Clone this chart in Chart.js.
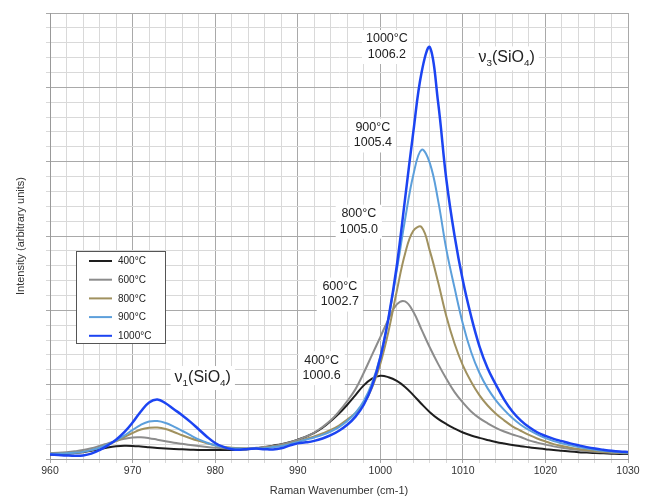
<!DOCTYPE html>
<html>
<head>
<meta charset="utf-8">
<script src="https://cdn.jsdelivr.net/npm/chart.js@4.4.1/dist/chart.umd.min.js"></script>
<style>
  html, body { margin: 0; padding: 0; background: #fff; }
</style>
</head>
<body>
<canvas id="raman" width="645" height="498"></canvas>
<script>
// wavenumber grid (cm-1), one point per cm-1 from 960 to 1030
const wavenumber = [];
for (let w = 960; w <= 1030; w++) wavenumber.push(w);

// intensities (arbitrary units)
const int400 = [0.3, 0.32, 0.35, 0.4, 0.46, 0.55, 0.66, 0.77, 0.85, 0.89,
  0.88, 0.84, 0.79, 0.74, 0.7, 0.67, 0.65, 0.63, 0.61, 0.6,
  0.6, 0.6, 0.61, 0.63, 0.66, 0.72, 0.8, 0.9, 1.0, 1.13,
  1.3, 1.5, 1.75, 2.1, 2.55, 3.05, 3.65, 4.3, 4.95, 5.4,
  5.6, 5.5, 5.25, 4.85, 4.3, 3.7, 3.15, 2.7, 2.35, 2.05,
  1.78, 1.58, 1.42, 1.28, 1.15, 1.04, 0.94, 0.86, 0.79, 0.72,
  0.66, 0.6, 0.55, 0.5, 0.46, 0.43, 0.4, 0.38, 0.36, 0.34, 0.33];
const int600 = [0.4, 0.42, 0.46, 0.52, 0.6, 0.72, 0.88, 1.05, 1.22, 1.36,
  1.45, 1.46, 1.4, 1.3, 1.2, 1.1, 1.02, 0.94, 0.87, 0.81,
  0.76, 0.72, 0.7, 0.7, 0.71, 0.75, 0.8, 0.88, 0.98, 1.12,
  1.3, 1.5, 1.78, 2.15, 2.6, 3.2, 3.9, 4.7, 5.8, 7.0,
  8.2, 9.4, 10.4, 10.6, 9.9, 8.7, 7.5, 6.4, 5.4, 4.5,
  3.8, 3.2, 2.75, 2.4, 2.1, 1.85, 1.65, 1.48, 1.25, 1.1,
  0.97, 0.85, 0.75, 0.67, 0.6, 0.54, 0.49, 0.45, 0.42, 0.4, 0.38];
const int800 = [0.35, 0.36, 0.38, 0.42, 0.48, 0.6, 0.76, 0.96, 1.2, 1.48,
  1.75, 1.98, 2.1, 2.12, 2.02, 1.82, 1.6, 1.4, 1.22, 1.06,
  0.93, 0.83, 0.76, 0.72, 0.7, 0.71, 0.75, 0.82, 0.9, 1.02,
  1.18, 1.35, 1.52, 1.72, 1.95, 2.25, 2.65, 3.1, 3.7, 4.8,
  6.4, 8.6, 11.3, 13.8, 15.35, 15.6, 14.0, 11.9, 9.6, 7.75,
  6.3, 5.2, 4.3, 3.6, 3.05, 2.6, 2.2, 1.9, 1.62, 1.38,
  1.18, 1.0, 0.87, 0.76, 0.67, 0.6, 0.54, 0.49, 0.45, 0.42, 0.4];
const int900 = [0.35, 0.36, 0.38, 0.42, 0.48, 0.6, 0.76, 0.98, 1.25, 1.58,
  1.95, 2.3, 2.52, 2.55, 2.42, 2.18, 1.9, 1.6, 1.32, 1.1,
  0.92, 0.8, 0.72, 0.7, 0.69, 0.7, 0.73, 0.8, 0.88, 1.0,
  1.15, 1.3, 1.45, 1.62, 1.85, 2.15, 2.55, 3.1, 3.9, 5.1,
  6.9, 9.5, 12.7, 16.1, 19.1, 20.8, 19.9, 17.4, 14.1, 11.5,
  9.1, 7.2, 5.8, 4.75, 3.95, 3.3, 2.75, 2.3, 1.95, 1.65,
  1.4, 1.2, 1.05, 0.92, 0.8, 0.7, 0.62, 0.55, 0.5, 0.45, 0.42];
const int1000 = [0.3, 0.27, 0.24, 0.22, 0.24, 0.36, 0.6, 0.92, 1.3, 1.8,
  2.45, 3.2, 3.8, 4.0, 3.75, 3.35, 2.95, 2.5, 2.0, 1.5,
  1.08, 0.82, 0.66, 0.62, 0.68, 0.7, 0.66, 0.64, 0.72, 0.9,
  1.05, 1.12, 1.22, 1.38, 1.6, 1.9, 2.3, 2.85, 3.65, 4.9,
  6.8, 9.5, 13.0, 17.5, 22.0, 26.0, 27.7, 24.0, 18.8, 15.0,
  12.0, 9.6, 7.6, 6.1, 5.0, 4.0, 3.2, 2.6, 2.15, 1.8,
  1.55, 1.35, 1.2, 1.05, 0.92, 0.8, 0.7, 0.62, 0.55, 0.5, 0.47];

const seriesNames = ['400°C', '600°C', '800°C', '900°C', '1000°C'];
const seriesData = [int400, int600, int800, int900, int1000];
const seriesColors = ['#1e1e1e', '#8c8c8c', '#a0915f', '#5c9fdb', '#1c44f2'];

// peak annotations: temperature and peak position
const peakTemps = ['1000°C', '900°C', '800°C', '600°C', '400°C'];
const peakPos = ['1006.2', '1005.4', '1005.0', '1002.7', '1000.6'];

const FONT = '"Liberation Sans", Arial, sans-serif';

// where the labels sit, in data units
const peakAnchors = [[1000.8, 28.25], [999.1, 22.3], [997.4, 16.5], [995.1, 11.6], [992.9, 6.65]];

function drawRich(ctx, parts, cx, cy, size) {
  let w = 0;
  parts.forEach(p => {
    ctx.font = (p.sub ? size * 0.62 : size) + 'px ' + FONT;
    p.w = ctx.measureText(p.t).width;
    w += p.w;
  });
  let x = cx - w / 2;
  ctx.fillStyle = '#fff';
  ctx.fillRect(x - 4, cy - size * 0.7, w + 8, size * 1.5);
  ctx.fillStyle = '#222';
  ctx.textBaseline = 'middle';
  ctx.textAlign = 'left';
  parts.forEach(p => {
    ctx.font = (p.sub ? size * 0.62 : size) + 'px ' + FONT;
    ctx.fillText(p.t, x, cy + (p.sub ? size * 0.35 : 0));
    x += p.w;
  });
}

const annotations = {
  id: 'annotations',
  afterDraw(chart) {
    const ctx = chart.ctx;
    const xs = chart.scales.x, ys = chart.scales.y;
    ctx.save();
    // peak labels
    ctx.font = '12.5px ' + FONT;
    ctx.textAlign = 'center';
    ctx.textBaseline = 'middle';
    peakTemps.forEach((t, i) => {
      const px = xs.getPixelForValue(peakAnchors[i][0]);
      const py = ys.getPixelForValue(peakAnchors[i][1]);
      const w = Math.max(ctx.measureText(t).width, ctx.measureText(peakPos[i]).width);
      ctx.fillStyle = '#fff';
      ctx.fillRect(px - w / 2 - 4, py - 9, w + 8, 34);
      ctx.fillStyle = '#222';
      ctx.fillText(t, px, py);
      ctx.fillText(peakPos[i], px, py + 15.5);
    });
    // band labels
    drawRich(ctx, [{t: 'ν'}, {t: '3', sub: true}, {t: '(SiO'}, {t: '4', sub: true}, {t: ')'}],
      xs.getPixelForValue(1015.3), ys.getPixelForValue(27.0), 16);
    drawRich(ctx, [{t: 'ν'}, {t: '1', sub: true}, {t: '(SiO'}, {t: '4', sub: true}, {t: ')'}],
      xs.getPixelForValue(978.5), ys.getPixelForValue(5.5), 16);

    // legend box
    const lx = 76, ly = 251, lw = 89, lh = 92;
    ctx.fillStyle = '#fff';
    ctx.fillRect(lx, ly, lw, lh);
    ctx.strokeStyle = '#555';
    ctx.lineWidth = 1;
    ctx.strokeRect(lx + 0.5, ly + 0.5, lw, lh);
    ctx.font = '10px ' + FONT;
    ctx.textAlign = 'left';
    seriesNames.forEach((n, i) => {
      const y = ly + 10 + i * 18.7;
      ctx.strokeStyle = seriesColors[i];
      ctx.lineWidth = 2;
      ctx.beginPath();
      ctx.moveTo(lx + 13, y);
      ctx.lineTo(lx + 36, y);
      ctx.stroke();
      ctx.fillStyle = '#222';
      ctx.fillText(n, lx + 42, y + 0.5);
    });
    ctx.restore();
  }
};

new Chart(document.getElementById('raman'), {
  type: 'line',
  data: {
    datasets: seriesNames.map((name, i) => ({
      label: name,
      data: wavenumber.map((w, j) => ({x: w, y: seriesData[i][j]})),
      borderColor: seriesColors[i],
      borderWidth: i === 4 ? 2.5 : 2,
      pointRadius: 0,
      tension: 0.4,
      order: 4 - i
    }))
  },
  options: {
    responsive: false,
    animation: false,
    layout: { padding: { left: 0, right: 17, top: 13, bottom: 0 } },
    plugins: { legend: { display: false }, tooltip: { enabled: false } },
    scales: {
      x: {
        type: 'linear', min: 960, max: 1030,
        afterFit(s) { s.height = 39; },
        ticks: {
          stepSize: 2, autoSkip: false, maxRotation: 0, padding: 2,
          color: '#333', font: { size: 10.5, family: FONT },
          callback: v => (v % 10 === 0 ? String(v) : '')
        },
        grid: {
          color: c => (c.tick && c.tick.value % 10 === 0 ? '#a9a9a9' : '#d9d9d9'),
          tickLength: 4
        },
        border: { color: '#999' },
        title: { display: true, text: 'Raman Wavenumber (cm-1)', color: '#333',
          font: { size: 11, family: FONT }, padding: { top: 1, bottom: 0 } }
      },
      y: {
        min: 0, max: 30,
        afterFit(s) { s.width = 50; },
        ticks: { stepSize: 1, display: false },
        grid: {
          color: c => (c.tick && c.tick.value % 5 === 0 ? '#a9a9a9' : '#d9d9d9'),
          tickLength: 4
        },
        border: { color: '#999' },
        title: { display: true, text: 'Intensity (arbitrary units)', color: '#333',
          font: { size: 11, family: FONT }, padding: { top: 14.5, bottom: 0 } }
      }
    }
  },
  plugins: [annotations]
});
</script>
</body>
</html>
